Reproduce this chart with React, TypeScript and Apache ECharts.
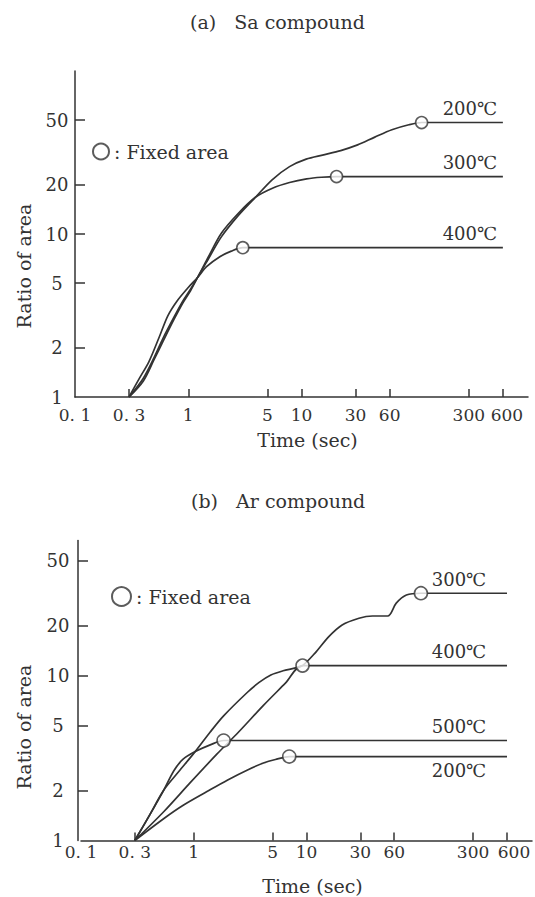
import React, { useEffect, useRef } from 'react';
import * as echarts from 'echarts';

// ---- axis ticks ----
const timeLabelValues = [0.1, 0.3, 1, 5, 10, 30, 60, 300, 600, 1000];
const timeTickValues = [0.3, 1, 5, 10, 30, 60, 300, 600];
const ratioLabelValues = [1, 2, 5, 10, 20, 50];
const ratioTickValues = [2, 5, 10, 20, 50];

// ---- (a) Sa compound ----
const saTime200 = [0.3, 0.4, 0.5, 0.6, 0.75, 0.9, 1.05, 1.22, 1.5, 1.96, 2.77, 3.92, 5.5, 7.84, 11, 15.7, 22.2, 31.3, 44.4, 62.8, 88.7, 115, 600];
const saRatio200 = [1, 1.25, 1.7, 2.2, 3.0, 3.8, 4.5, 5.47, 7.0, 9.6, 13.0, 16.8, 21.5, 25.9, 28.8, 30.6, 32.5, 35.2, 39.3, 43.6, 46.8, 48.3, 48.3];
const saTime300 = [0.3, 0.4, 0.5, 0.6, 0.75, 0.9, 1.05, 1.22, 1.5, 1.96, 2.77, 3.92, 5.54, 7.84, 11.1, 15, 20.4, 600];
const saRatio300 = [1, 1.3, 1.75, 2.3, 3.1, 3.9, 4.6, 5.47, 7.2, 10.1, 13.4, 16.8, 19.1, 20.7, 21.8, 22.3, 22.5, 22.5];
const saTime400 = [0.3, 0.37, 0.45, 0.55, 0.66, 0.8, 1.0, 1.22, 1.45, 1.9, 2.4, 3.03, 600];
const saRatio400 = [1, 1.3, 1.65, 2.3, 3.15, 3.9, 4.7, 5.45, 6.3, 7.25, 7.85, 8.24, 8.24];
const saFixedTime = [115, 20.4, 3.03];
const saFixedRatio = [48.3, 22.5, 8.24];

// ---- (b) Ar compound ----
const arTime300 = [0.3, 0.4, 0.544, 0.737, 1.03, 1.4, 1.84, 2.98, 3.8, 4.83, 6.2, 7.84, 9.22, 11.9, 15.7, 20.7, 29.2, 38.5, 52.5, 62.5, 76.9, 103.5, 600];
const arRatio300 = [1, 1.4, 2.03, 2.62, 3.46, 4.55, 5.7, 7.9, 9.1, 10.1, 10.7, 11.1, 11.5, 13.7, 17.2, 20.3, 22.3, 23.0, 23.0, 27.5, 30.8, 31.6, 31.6];
const arTime400 = [0.3, 0.544, 0.935, 1.61, 2.5, 4.15, 6.5, 9.22, 600];
const arRatio400 = [1, 1.5, 2.25, 3.35, 4.55, 6.6, 9.0, 11.5, 11.5];
const arTime500 = [0.3, 0.4, 0.544, 0.666, 0.8, 1.03, 1.4, 1.84, 600];
const arRatio500 = [1, 1.4, 2.03, 2.65, 3.1, 3.46, 3.8, 4.04, 4.04];
const arTime200 = [0.3, 0.544, 0.8, 1.31, 2.0, 3.0, 4.15, 5.3, 7.03, 600];
const arRatio200 = [1, 1.36, 1.63, 1.98, 2.33, 2.68, 2.95, 3.1, 3.23, 3.23];
const arFixedTime = [103.5, 9.22, 1.84, 7.03];
const arFixedRatio = [31.6, 11.5, 4.04, 3.23];

const FONT = '"DejaVu Serif", "Noto Sans CJK JP", serif';
const INK = '#333333';

const zip = (a: number[], b: number[]) => a.map((t, i) => [t, b[i]]);

function fmtTime(v: number): string {
  if (Math.abs(v - 0.1) < 1e-6) return '0. 1';
  if (Math.abs(v - 0.3) < 1e-6) return '0. 3';
  if (Math.abs(v - 600) < 1e-6) return '{shift|600}';
  if (Math.abs(v - 1000) < 1e-6) return '';
  return String(Math.round(v));
}

function curve(name: string, t: number[], r: number[], idx: number, dx: number, below: boolean) {
  return {
    type: 'line',
    name,
    xAxisIndex: idx,
    yAxisIndex: idx,
    data: zip(t, r),
    smooth: 0.3,
    showSymbol: false,
    symbol: 'none',
    silent: true,
    z: 2,
    lineStyle: { color: INK, width: 1.7 },
    endLabel: {
      show: true,
      formatter: name,
      distance: 0,
      align: 'center',
      verticalAlign: 'middle',
      offset: [dx, below ? 14 : -14],
      fontFamily: FONT,
      fontSize: 18,
      color: INK,
    },
  };
}

function fixed(t: number[], r: number[], idx: number, size: number) {
  return {
    type: 'scatter',
    name: 'Fixed area',
    xAxisIndex: idx,
    yAxisIndex: idx,
    data: zip(t, r),
    symbol: 'circle',
    symbolSize: size,
    silent: true,
    z: 5,
    itemStyle: { color: '#ffffff', borderColor: INK, borderWidth: 1.6 },
  };
}

function xAxis(idx: number, labelMargin: number, nameGap: number, shift600: number) {
  return {
    type: 'log',
    logBase: 10,
    gridIndex: idx,
    min: 0.1,
    max: 1000,
    name: 'Time (sec)',
    nameLocation: 'middle',
    nameGap,
    nameTextStyle: { fontFamily: FONT, fontSize: 19, color: INK, padding: [0, 0, 0, 12] },
    axisLine: { show: true, lineStyle: { color: INK, width: 1.5 } },
    axisTick: { show: true, inside: true, length: 8, customValues: timeTickValues, lineStyle: { color: INK, width: 1.5 } },
    axisLabel: {
      customValues: timeLabelValues,
      formatter: fmtTime,
      fontFamily: FONT,
      fontSize: 17,
      color: INK,
      margin: labelMargin,
      rich: { shift: { fontFamily: FONT, fontSize: 17, color: INK, padding: [0, 0, 0, shift600] } },
    },
    splitLine: { show: false },
    minorTick: { show: false },
  };
}

function yAxis(idx: number, max: number, offset: number, nameGap: number, padR: number, labelMargin: number) {
  return {
    type: 'log',
    logBase: 10,
    gridIndex: idx,
    min: 1,
    max,
    offset,
    name: 'Ratio of area',
    nameLocation: 'middle',
    nameGap,
    nameTextStyle: { fontFamily: FONT, fontSize: 19, color: INK, padding: [0, padR, 0, 0] },
    axisLine: { show: true, lineStyle: { color: INK, width: 1.5 } },
    axisTick: { show: true, inside: true, length: 10, customValues: ratioTickValues, lineStyle: { color: INK, width: 1.5 } },
    axisLabel: { customValues: ratioLabelValues, formatter: (v: number) => String(Math.round(v)), align: 'center', fontFamily: FONT, fontSize: 18, color: INK, margin: labelMargin },
    splitLine: { show: false },
    minorTick: { show: false },
  };
}

export default function App() {
  const ref = useRef<HTMLDivElement>(null);
  useEffect(() => {
    if (!ref.current) return;
    const chart = echarts.init(ref.current, undefined, { renderer: 'svg' });
    const textStyle = { fontFamily: FONT, fontSize: 19, fontWeight: 'normal', color: INK };
    chart.setOption({
      animation: false,
      backgroundColor: '#ffffff',
      textStyle: { fontFamily: FONT },
      title: [
        { text: '(a)   Sa compound', left: 190, top: 12, padding: 0, textStyle },
        { text: '(b)   Ar compound', left: 191, top: 491, padding: 0, textStyle },
      ],
      legend: [
        {
          data: ['Fixed area'], left: 92, top: 142, padding: 0, icon: 'circle',
          itemWidth: 16, itemHeight: 16, formatter: ': Fixed area',
          textStyle: { fontFamily: FONT, fontSize: 19, color: INK }, selectedMode: false,
        },
        {
          data: ['Fixed area'], left: 111, top: 586, padding: 0, icon: 'circle',
          itemWidth: 19, itemHeight: 19, formatter: ': Fixed area',
          textStyle: { fontFamily: FONT, fontSize: 19, color: INK }, selectedMode: false,
        },
      ],
      grid: [
        { left: 75, top: 71, width: 453, height: 326 },
        { left: 81, top: 540.5, width: 454, height: 300 },
      ],
      xAxis: [xAxis(0, 9, 33, 8), xAxis(1, 3, 36, 14)],
      yAxis: [yAxis(0, 100, 0, 42, 64, 18), yAxis(1, 66, 3, 45, 73, 20)],
      series: [
        curve('200℃', saTime200, saRatio200, 0, -33, false),
        curve('300℃', saTime300, saRatio300, 0, -33, false),
        curve('400℃', saTime400, saRatio400, 0, -33, false),
        fixed(saFixedTime, saFixedRatio, 0, 12),
        curve('300℃', arTime300, arRatio300, 1, -48, false),
        curve('400℃', arTime400, arRatio400, 1, -48, false),
        curve('500℃', arTime500, arRatio500, 1, -48, false),
        curve('200℃', arTime200, arRatio200, 1, -48, true),
        fixed(arFixedTime, arFixedRatio, 1, 13),
      ],
    });
    return () => chart.dispose();
  }, []);
  return (
    <div
      ref={ref}
      style={{ position: 'fixed', left: 0, top: 0, width: 535, height: 897, background: '#ffffff' }}
    />
  );
}
